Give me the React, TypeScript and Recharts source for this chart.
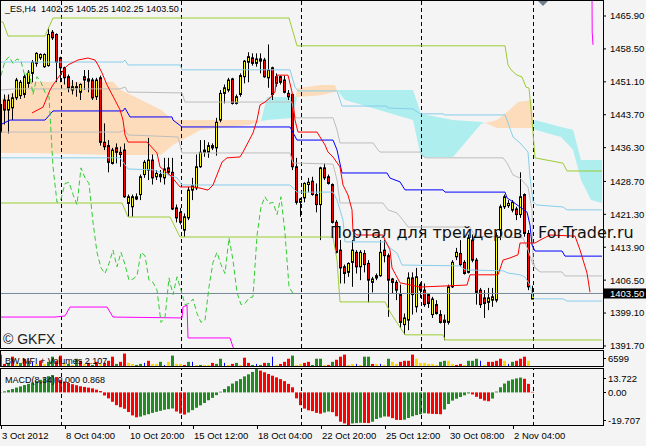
import React from "react";
import { Area, Bar, ComposedChart, Line, ReferenceLine, XAxis, YAxis } from "recharts";

// ES H4 bars, index 0 = 3 Oct 2012 00:00
const opens = [
  1439.75, 1447.0, 1444.75, 1445.25, 1447.5, 1448.0, 1448.25, 1450.75, 1453.0, 1455.25,
  1456.5, 1454.5, 1454.75, 1462.25, 1461.75, 1456.5, 1454.25, 1452.25, 1449.25, 1449.75,
  1448.75, 1452.25, 1451.75, 1451.5, 1447.75, 1452.0, 1437.5, 1436.75, 1432.75, 1436.25,
  1435.25, 1435.75, 1423.75, 1423.0, 1424.75, 1425.75, 1430.25, 1431.25, 1433.5, 1429.75,
  1430.25, 1429.5, 1431.75, 1430.75, 1422.75, 1421.75, 1417.75, 1420.5, 1426.75, 1427.25,
  1432.0, 1435.25, 1435.25, 1436.75, 1436.25, 1442.5, 1448.5, 1449.25, 1451.75, 1446.25,
  1448.25, 1452.25, 1455.5, 1456.5, 1455.25, 1456.25, 1456.0, 1452.0, 1454.25, 1450.75,
  1452.25, 1451.5, 1448.5, 1448.25, 1432.0, 1424.0, 1425.0, 1428.0, 1428.75, 1425.75,
  1423.5, 1431.75, 1429.75, 1428.0, 1419.5, 1413.25, 1409.5, 1408.25, 1410.5, 1412.75,
  1409.5, 1412.5, 1410.25, 1406.0, 1407.0, 1407.5, 1413.25, 1412.0, 1406.75, 1406.0,
  1403.25, 1396.5, 1397.5, 1407.0, 1400.5, 1405.5, 1404.25, 1403.25, 1398.75, 1401.0,
  1398.75, 1397.0, 1397.0, 1405.0, 1411.75, 1412.5, 1410.5, 1408.25, 1415.5, 1411.0,
  1404.25, 1402.5, 1401.5, 1402.0, 1402.0, 1417.75, 1423.0, 1423.25, 1422.25, 1422.5,
  1421.25, 1425.75, 1417.0, 1402.25,
];
const highs = [
  1447.0, 1448.25, 1448.25, 1448.5, 1452.0, 1451.5, 1452.75, 1453.75, 1456.0, 1457.75,
  1457.5, 1457.5, 1463.25, 1462.75, 1462.0, 1456.75, 1454.5, 1452.75, 1451.5, 1451.0,
  1450.75, 1453.75, 1453.75, 1452.0, 1452.0, 1452.5, 1441.75, 1438.0, 1436.25, 1437.25,
  1436.5, 1437.25, 1425.75, 1425.75, 1426.0, 1430.25, 1433.5, 1438.5, 1434.75, 1431.25,
  1431.25, 1434.0, 1434.0, 1434.0, 1423.5, 1422.75, 1421.5, 1427.5, 1429.5, 1434.75,
  1438.0, 1438.0, 1437.5, 1437.25, 1443.0, 1449.25, 1450.5, 1452.0, 1452.0, 1448.25,
  1453.0, 1456.0, 1457.75, 1457.5, 1457.5, 1457.5, 1456.5, 1459.5, 1454.5, 1453.0,
  1452.5, 1452.5, 1449.25, 1448.5, 1434.0, 1425.0, 1428.5, 1429.5, 1429.75, 1428.25,
  1432.0, 1432.75, 1430.25, 1428.25, 1420.0, 1415.5, 1410.0, 1410.5, 1415.5, 1413.25,
  1413.25, 1413.25, 1411.0, 1407.25, 1408.0, 1415.5, 1415.5, 1412.5, 1407.0, 1406.5,
  1405.5, 1399.0, 1408.25, 1408.25, 1409.25, 1406.0, 1405.75, 1403.5, 1402.75, 1402.0,
  1399.75, 1398.75, 1405.5, 1411.0, 1413.75, 1415.5, 1411.0, 1416.75, 1416.75, 1411.5,
  1404.75, 1404.25, 1404.75, 1404.75, 1417.25, 1423.5, 1425.75, 1424.5, 1424.5, 1423.0,
  1430.75, 1426.0, 1417.75, 1405.25,
];
const lows = [
  1434.0, 1441.5, 1439.5, 1442.5, 1447.0, 1447.25, 1447.5, 1449.75, 1451.0, 1454.5,
  1456.0, 1454.25, 1454.5, 1460.5, 1451.0, 1451.0, 1450.5, 1448.75, 1448.25, 1447.75,
  1447.0, 1449.25, 1448.75, 1447.0, 1447.0, 1436.75, 1435.75, 1430.75, 1432.5, 1432.75,
  1432.0, 1425.0, 1420.75, 1420.75, 1424.5, 1424.5, 1429.5, 1429.0, 1428.0, 1429.0,
  1428.5, 1428.0, 1430.25, 1422.25, 1419.5, 1419.0, 1416.25, 1420.0, 1424.5, 1426.75,
  1431.75, 1434.25, 1434.0, 1435.75, 1434.5, 1442.0, 1446.25, 1448.75, 1446.0, 1446.0,
  1447.75, 1450.75, 1451.0, 1454.75, 1454.5, 1453.0, 1452.0, 1449.75, 1447.0, 1450.0,
  1450.5, 1448.5, 1447.0, 1431.25, 1423.5, 1420.75, 1424.0, 1426.25, 1425.5, 1421.75,
  1415.5, 1429.0, 1428.0, 1419.25, 1412.5, 1405.75, 1405.75, 1407.25, 1405.0, 1408.0,
  1406.5, 1408.25, 1401.5, 1403.75, 1406.5, 1407.25, 1410.5, 1398.25, 1403.5, 1402.0,
  1395.75, 1394.25, 1395.25, 1398.75, 1399.25, 1402.5, 1400.5, 1400.25, 1398.0, 1398.75,
  1396.75, 1393.0, 1396.5, 1404.75, 1411.0, 1409.5, 1407.75, 1408.0, 1410.5, 1401.0,
  1400.25, 1398.0, 1399.75, 1400.5, 1401.5, 1415.5, 1422.5, 1422.75, 1421.75, 1420.0,
  1420.5, 1416.25, 1404.25, 1402.25,
];
const closes = [
  1446.0, 1444.75, 1447.0, 1447.5, 1451.5, 1451.0, 1452.25, 1453.25, 1455.5, 1457.5,
  1457.25, 1457.25, 1461.75, 1461.0, 1455.5, 1454.25, 1452.0, 1449.75, 1450.0, 1450.0,
  1450.5, 1451.5, 1451.25, 1447.5, 1451.5, 1437.5, 1436.5, 1433.0, 1435.75, 1435.25,
  1434.75, 1425.25, 1425.25, 1425.25, 1425.25, 1429.75, 1433.0, 1433.5, 1429.5, 1430.5,
  1429.75, 1431.5, 1430.75, 1422.5, 1420.5, 1419.5, 1420.75, 1426.75, 1427.75, 1432.0,
  1435.25, 1435.75, 1436.75, 1436.25, 1442.0, 1448.5, 1449.75, 1451.5, 1446.25, 1447.75,
  1452.5, 1455.75, 1456.75, 1455.25, 1456.25, 1455.75, 1452.25, 1453.75, 1448.25, 1452.25,
  1451.0, 1448.75, 1447.75, 1432.0, 1424.0, 1424.75, 1428.25, 1428.5, 1425.75, 1423.5,
  1431.75, 1429.5, 1428.25, 1419.5, 1412.75, 1409.25, 1408.0, 1410.25, 1413.25, 1409.5,
  1412.75, 1410.0, 1406.5, 1406.75, 1407.5, 1412.75, 1412.0, 1406.5, 1406.0, 1404.25,
  1397.0, 1398.0, 1407.0, 1403.25, 1407.25, 1404.25, 1401.0, 1401.25, 1402.25, 1399.0,
  1397.0, 1397.5, 1405.0, 1410.5, 1412.75, 1410.0, 1408.0, 1416.0, 1411.0, 1403.75,
  1401.0, 1401.25, 1402.5, 1402.75, 1416.5, 1423.0, 1425.25, 1423.75, 1424.0, 1421.25,
  1425.25, 1417.0, 1405.0, 1403.5,
];

const macd = [
  0.2, 0.6, 1.3, 2.0, 2.8, 3.5, 4.3, 5.0, 5.8, 6.6, 7.4, 8.2, 9.5, 10.2, 9.0, 7.4, 6.4, 5.5, 4.8, 4.2,
  3.6, 3.2, 2.8, 2.4, 1.6, 0.8, -1.8, -3.5, -5.5, -7.5, -8.7, -9.6, -11.5, -13.5, -14.6, -14.2, -13.4,
  -12.8, -12.0, -11.4, -10.8, -10.2, -9.8, -9.4, -11.2, -12.4, -13.0, -11.8, -10.4, -9.0, -7.6, -6.2,
  -4.6, -3.2, -1.6, 0.4, 2.0, 3.6, 5.2, 6.6, 7.8, 9.4, 10.6, 12.0, 13.7, 12.8, 11.8, 10.8, 9.8, 8.8,
  7.8, 6.6, 5.0, 3.0, -3.5, -7.5, -9.5, -10.5, -11.0, -12.0, -12.5, -11.8, -11.2, -11.6, -14.0, -17.2,
  -18.2, -19.7, -18.2, -18.0, -17.8, -17.9, -18.0, -17.2, -15.6, -14.8, -14.1, -14.2, -15.1, -16.1,
  -16.2, -16.0, -15.0, -14.0, -13.3, -12.8, -12.2, -12.4, -12.6, -12.7, -12.8, -10.0, -6.8, -4.8, -3.7,
  -2.7, -1.7, -0.6, -1.2, -2.6, -3.8, -4.8, -5.2, -3.6, 0.5, 3.0, 5.2, 6.8, 7.6, 8.2, 8.7, 8.0, 5.0, 0.3,
];

const bwVol = [
  5110, 1280, 1700, 4260, 1280, 1700, 3410, 2560, 2130, 1280,
  2560, 1280, 2130, 4260, 2560, 4690, 1700, 1280, 850, 3410,
  2560, 1280, 1700, 850, 2130, 1280, 1700, 2560, 4260, 1280,
  2130, 5540, 1700, 1280, 850, 1280, 1700, 2560, 1280, 1280,
  2130, 850, 2130, 4690, 1280, 1280, 850, 2130, 2130, 850,
  850, 850, 850, 1700, 1280, 3410, 1700, 850, 1280, 1700,
  850, 3830, 1700, 850, 1280, 850, 1700, 1700, 4260, 850,
  1280, 2130, 3410, 4690, 850, 1280, 1700, 2130, 850, 3410,
  3410, 850, 850, 2130, 2980, 4260, 5110, 850, 1280, 1280,
  850, 4260, 4260, 1280, 1280, 1280, 850, 3410, 2130, 1280,
  2130, 2560, 2560, 5110, 3410, 1700, 1700, 1280, 1280, 850,
  2130, 2560, 2560, 1280, 850, 1280, 850, 2560, 2560, 3410,
  2560, 850, 2130, 2130, 2560, 3410, 2560, 1280, 2130, 2560,
  3410, 4260, 2560, 430,
];
// g = green, r = red, y = squat (gold), b = fake (blue)
const bwState =
  "grgrygrgby" + "ryggrrygyg" + "ryrgryrrrg" + "rryyggbryy" + "gbygyyrgby" +
  "gyyrggbyrg" + "yrrgbgrgby" + "rrrgyyrrgg" + "gyrgrrryyb" + "yggrybygyy" +
  "rrrryyyyyy" + "ggyyrryggg" + "byrrrrybgr" + "rryy";

const dateTicks = [0, 16, 32, 48, 64, 80, 96, 112, 128];
const dateLabels = [
  "3 Oct 2012", "8 Oct 04:00", "10 Oct 20:00", "15 Oct 12:00", "18 Oct 04:00",
  "22 Oct 20:00", "25 Oct 12:00", "30 Oct 08:00", "2 Nov 04:00",
];
const priceTicks = [1465.9, 1458.5, 1451.1, 1443.7, 1436.3, 1428.7, 1421.3, 1413.9, 1406.5, 1399.1, 1391.7];
const weekStarts = [15, 45, 75, 105, 133];
const lastPrice = 1403.5;
const chikouShift = 60;

// indicator lines, [bar index, price]
const tenkan = [
  [7.75, 1444.1], [10.5, 1445.4], [12.25, 1449.25], [13, 1450.4], [16, 1454.2], [16.75, 1454.9],
  [19.25, 1456.0], [21.75, 1456.45], [23.5, 1456.0], [24.25, 1454.9], [25.25, 1453.1], [26.5, 1450.4],
  [28.5, 1447.0], [29.75, 1444.8], [30.5, 1442.5], [31, 1439.15], [31.75, 1437.55], [36.5, 1437.55],
  [39, 1435.1], [39.75, 1431.95], [42.25, 1430.15], [44.75, 1427.45], [48, 1427.45], [49.75, 1427.2],
  [51.75, 1426.75], [53, 1427.9], [55.25, 1433.05], [56.5, 1434.0], [59.75, 1434.2], [60.5, 1435.3],
  [63, 1439.6], [64, 1442.5], [64.75, 1445.9], [66, 1446.55], [67.25, 1447.5], [68.5, 1448.8],
  [69, 1452.6], [71.75, 1452.6], [72.75, 1448.8], [73.5, 1442.5], [74.25, 1439.8], [79, 1439.8],
  [81, 1436.9], [81.75, 1435.3], [83, 1434.2], [84.75, 1431.95], [85.5, 1427.9], [86.75, 1425.65],
  [87.75, 1422.3], [88, 1417.35], [89, 1416.65], [95.5, 1416.65], [96, 1415.5], [97.25, 1413.3],
  [97.75, 1409.25], [99.75, 1405.9], [104.75, 1404.95], [116.5, 1405.4], [117.25, 1407.7],
  [124.25, 1407.7], [125.5, 1411.0], [127.25, 1411.5], [129.25, 1412.2], [129.75, 1414.85],
  [133.5, 1414.85], [134.75, 1415.5], [137.25, 1416.65], [143.5, 1416.4], [144.75, 1413.3],
  [146.5, 1408.1], [147.25, 1403.8],
];
const kijun = [
  [-0.25, 1441.4], [2.25, 1442.5], [11, 1442.5], [13, 1444.55], [30.5, 1444.55], [31, 1445.2],
  [32.25, 1443.2], [42.75, 1443.2], [43, 1442.5], [45.25, 1440.95], [72.25, 1440.95], [74, 1438.0],
  [83, 1438.0], [84, 1435.8], [85.25, 1430.6], [96.5, 1430.6], [97.25, 1429.45], [99.75, 1428.6],
  [101, 1426.8], [110.5, 1426.8], [111, 1426.3], [126, 1426.3], [126.5, 1425.0], [128, 1424.1],
  [131.5, 1421.8], [132.25, 1418.9], [132.75, 1414.4], [133.5, 1413.05], [140.25, 1413.05],
  [141, 1411.9], [150.25, 1411.9],
];
const limeUpper = [
  [-0.25, 1464.55], [0.5, 1464.55], [1.75, 1461.4], [11, 1461.4], [13, 1465.45], [72, 1465.45],
  [74, 1459.2], [126, 1459.2], [126.75, 1454.9], [127.5, 1453.8], [129, 1452.6], [130.25, 1452.2],
  [131.25, 1449.9], [132, 1449.7], [132.75, 1442.5], [133.5, 1434.0], [140.5, 1432.8],
  [141.5, 1431.05], [150.25, 1431.05],
];
const limeLower = [
  [-0.25, 1423.85], [30.25, 1423.85], [31.75, 1420.7], [42.25, 1420.7], [44.75, 1416.2], [83, 1416.2],
  [84, 1411.0], [84.75, 1401.6], [96, 1401.6], [97.25, 1399.35], [101, 1394.2], [110.5, 1394.2],
  [111, 1393.05], [150.25, 1393.05],
];
const skyUpper = [
  [-0.25, 1455.55], [30.5, 1455.55], [31, 1456.0], [31.75, 1454.9], [44.75, 1454.9], [45.25, 1453.8],
  [72.25, 1453.8], [73.5, 1449.9], [74.25, 1449.05], [84, 1449.05], [85.25, 1445.65], [96.5, 1445.65],
  [96.75, 1445.2], [103, 1445.0], [104.75, 1443.9], [110.5, 1443.9], [111, 1443.65], [126, 1443.65],
  [126.5, 1442.5], [128, 1438.7], [129.75, 1437.35], [131.75, 1435.3], [132.25, 1429.7], [133, 1424.1],
  [134, 1423.4], [140.5, 1422.95], [141.5, 1422.3], [150.25, 1422.3],
];
const skyLower = [
  [-0.25, 1434.0], [29.75, 1434.0], [31.75, 1431.5], [38, 1431.3], [44, 1429.5], [45.25, 1427.9],
  [72.25, 1427.9], [73, 1427.2], [74, 1426.3], [83, 1426.3], [84, 1424.5], [84.75, 1422.3],
  [85.5, 1420.0], [86, 1415.1], [96, 1415.1], [97.25, 1413.75], [99, 1412.6], [100.25, 1409.9],
  [114.75, 1409.7], [116, 1408.8], [125.5, 1408.6], [126.75, 1408.1], [129.75, 1407.7], [131, 1407.2],
  [132.25, 1405.4], [133, 1402.7], [133.5, 1402.3], [140.5, 1402.3], [141.5, 1401.8], [150.25, 1401.8],
];
const grayUpper = [
  [-0.25, 1449.25], [3.5, 1449.5], [29.75, 1449.5], [31, 1449.95], [31.75, 1448.8], [45.25, 1448.6],
  [46, 1446.55], [72.75, 1446.55], [73.5, 1443.2], [74, 1443.0], [83, 1443.0], [84, 1440.3],
  [84.75, 1437.35], [93, 1437.35], [94.25, 1435.8], [94.75, 1435.3], [104.75, 1435.3], [106, 1434.0],
  [125.5, 1434.0], [126.5, 1432.85], [128, 1430.15], [129.75, 1429.45], [131.75, 1427.45],
  [132.75, 1422.3], [133, 1411.0], [133.5, 1409.25], [134.75, 1408.35], [140.25, 1408.35],
  [141, 1407.45], [150.25, 1407.45],
];
const grayLower = [
  [-0.25, 1439.8], [29.75, 1439.8], [31, 1440.3], [31.75, 1439.15], [44.25, 1438.7], [45.25, 1435.1],
  [72.25, 1435.1], [73, 1432.85], [83, 1432.6], [84, 1429.0], [84.75, 1423.85], [95.5, 1423.85],
  [96.75, 1422.3], [99, 1421.6], [100.5, 1420.0], [101.75, 1418.45], [117.25, 1418.45],
  [118.5, 1416.4], [130.5, 1416.0], [131.75, 1413.3], [133, 1409.9], [134.75, 1408.35],
];
const magentaLeft = [
  [-0.25, 1398.2], [13.5, 1398.2], [16, 1398.45], [17.25, 1400.45], [26.5, 1400.45], [28, 1398.2],
  [45.25, 1398.0], [45.5, 1400.45], [46.5, 1400.9], [46.75, 1393.5], [57.25, 1393.5], [58, 1391.45],
  [59, 1390.3],
];
const magentaRight = [[147.75, 1470.6], [147.8, 1462.3], [148, 1459.4]];

// cloud pieces, [bar index, low, high]
const peachCloud = [
  [[-0.25, 1435.1, 1447.0], [7, 1435.1, 1451.1], [28, 1434.65, 1451.1], [30, 1434.65, 1449.25],
   [40, 1434.65, 1444.8], [43, 1436.9, 1442.5], [50, 1440.3, 1442.5], [62, 1441.4, 1442.5], [65, 1442.3, 1442.3]],
  [[73.5, 1447.7, 1447.7], [74.25, 1447.7, 1449.7], [80, 1448.1, 1450.4], [83.5, 1448.8, 1450.4],
   [84, 1449.25, 1449.25]],
  [[121, 1441.85, 1441.85], [124, 1440.7, 1442.5], [126.5, 1440.7, 1444.3], [129.25, 1440.7, 1446.55],
   [132.75, 1440.7, 1447.0], [133, 1440.9, 1440.9]],
];
const cyanCloud = [
  [[65, 1442.3, 1442.3], [66.5, 1442.5, 1447.7], [73, 1442.95, 1447.7], [74, 1447.7, 1447.7]],
  [[84, 1449.25, 1449.25], [86, 1447.0, 1449.25], [103, 1442.5, 1449.25], [105, 1434.2, 1443.9],
   [113, 1434.2, 1442.5], [120, 1441.6, 1442.05], [121, 1441.85, 1441.85]],
  [[133, 1441.4, 1441.4], [133.5, 1440.3, 1442.5], [140, 1438.7, 1440.95], [143, 1435.8, 1440.3],
   [145, 1429.0, 1433.5], [147.5, 1424.5, 1433.5], [150.25, 1423.85, 1433.5]],
];

const X_DOMAIN: [number, number] = [-0.25, 150.5];
const FONT = '"Liberation Sans", Arial, sans-serif';

const candleRows = opens.map((o, i) => ({
  i, o, h: highs[i], l: lows[i], c: closes[i], range: [lows[i], highs[i]],
}));
const chikou = closes.slice(chikouShift).map((v, i) => ({ i, v }));
const macdRows = macd.map((m, i) => ({ i, m, up: i === 0 || m >= macd[i - 1] }));
const bwRows = bwVol.map((v, i) => ({ i, v, s: bwState[i] }));
const pts = (a: number[][]) => a.map(([i, v]) => ({ i, v }));
const band = (a: number[][]) => a.map(([i, lo, hi]) => ({ i, r: [lo, hi] }));

const lineSet = [
  { d: limeUpper, c: "#9acd32" },
  { d: limeLower, c: "#9acd32" },
  { d: grayUpper, c: "#bdbdbd" },
  { d: grayLower, c: "#bdbdbd" },
  { d: skyUpper, c: "#87ceeb" },
  { d: skyLower, c: "#87ceeb" },
  { d: magentaLeft, c: "#ff00ff" },
  { d: magentaRight, c: "#ff00ff" },
  { d: kijun, c: "#0000ff" },
  { d: tenkan, c: "#ff0000" },
];

const Candle = (props: any) => {
  const { x, y, width, height, payload } = props;
  if (!payload) return null;
  const { o, h, l, c } = payload;
  const cx = Math.floor(x + width / 2) + 0.5;
  const ppu = h > l ? height / (h - l) : 0;
  const py = (v: number) => y + (h - v) * ppu;
  const top = py(Math.max(o, c));
  const bot = py(Math.min(o, c));
  return (
    <g>
      <line x1={cx} x2={cx} y1={y} y2={y + height} stroke="#000" strokeWidth={1} />
      <rect x={cx - 1} y={top} width={2} height={Math.max(bot - top, 1)}
        fill={c >= o ? "#ffff00" : "#ff0000"} stroke="#000" strokeWidth={1} />
    </g>
  );
};

const MacdBar = (props: any) => {
  const { x, y, width, height, payload } = props;
  if (!payload) return null;
  const cx = Math.floor(x + width / 2);
  const top = Math.min(y, y + height);
  return <rect x={cx - 1} y={top} width={3} height={Math.abs(height)} fill={payload.up ? "#228b22" : "#ff0000"} />;
};

const bwColor: Record<string, string> = { g: "#228b22", r: "#ff0000", y: "#ffd700", b: "#0000ff" };
const BwBar = (props: any) => {
  const { x, y, width, height, payload } = props;
  if (!payload) return null;
  const cx = Math.floor(x + width / 2);
  const thin = payload.s === "b";
  return <rect x={thin ? cx : cx - 1} y={y} width={thin ? 1 : 3} height={Math.max(height, 0)} fill={bwColor[payload.s]} />;
};

const DateTick = (props: any) => {
  const { x, y, payload } = props;
  const k = dateTicks.indexOf(payload.value);
  return (
    <g>
      <line x1={Math.floor(x) + 0.5} x2={Math.floor(x) + 0.5} y1={y} y2={y + 3} stroke="#000" />
      <text x={x + 1} y={y + 13} fontSize={9.5} fontFamily={FONT} fill="#000">{dateLabels[k]}</text>
    </g>
  );
};

const MacdTick = (props: any) => {
  const { x, y, payload } = props;
  const v = payload.value;
  const off = v > 0 ? 8.7 : v < 0 ? -6 : 0;
  const yy = Math.round(y + off) + 0.5;
  return (
    <g>
      <line x1={x} x2={x + 3} y1={yy} y2={yy} stroke="#000" />
      <text x={x + 5} y={yy + 3.5} fontSize={9.5} fontFamily={FONT} fill="#000">
        {v === 0 ? "0.00" : v.toFixed(3)}
      </text>
    </g>
  );
};

const BwTick = (props: any) => {
  const { x, y } = props;
  return (
    <g>
      <line x1={x} x2={x + 3} y1={y + 7.5} y2={y + 7.5} stroke="#000" />
      <text x={x + 5} y={y + 11} fontSize={9.5} fontFamily={FONT} fill="#000">6599</text>
    </g>
  );
};

const PriceTag = (props: any) => {
  const vb = props.viewBox || {};
  const right = (vb.x || 0) + (vb.width || 0);
  const yy = vb.y || 0;
  return (
    <g>
      <rect x={right + 1} y={yy - 5} width={43} height={10} fill="#000" />
      <text x={right + 7} y={yy + 3.5} fontSize={9.5} fontFamily={FONT} fill="#fff">
        {lastPrice.toFixed(2)}
      </text>
    </g>
  );
};

const separators = () =>
  weekStarts.map((w) => (
    <ReferenceLine key={"sep" + w} x={w + 0.125} stroke="#000" strokeDasharray="4 3" strokeWidth={1} />
  ));

export default function App() {
  return (
    <div style={{ position: "absolute", left: 0, top: 0, width: 646, height: 446, background: "#f4f4f4", overflow: "hidden" }}>
      <div style={{ position: "absolute", left: 0, top: 351 }}>
        <ComposedChart width={646} height={16} data={bwRows} margin={{ top: 0, right: 0, bottom: 0, left: 0 }}>
          <XAxis dataKey="i" type="number" domain={X_DOMAIN} allowDataOverflow hide />
          <YAxis orientation="right" width={43} domain={[0, 6599]} allowDataOverflow ticks={[6599]} interval={0}
            axisLine={false} tickLine={false} tickSize={0} tickMargin={0} tick={<BwTick />} />
          <Bar dataKey="v" barSize={3} shape={<BwBar />} isAnimationActive={false} />
        </ComposedChart>
      </div>

      <div style={{ position: "absolute", left: 0, top: 369 }}>
        <ComposedChart width={646} height={77} data={macdRows} margin={{ top: 0, right: 0, bottom: 0, left: 0 }}>
          <XAxis dataKey="i" type="number" domain={X_DOMAIN} allowDataOverflow ticks={dateTicks} interval={0}
            height={20} axisLine={false} tickLine={false} tickSize={0} tickMargin={0} tick={<DateTick />} />
          <YAxis orientation="right" width={43} domain={[-19.707, 13.722]} allowDataOverflow
            ticks={[13.722, 0, -19.707]} interval={0} axisLine={false} tickLine={false} tickSize={0}
            tickMargin={0} tick={<MacdTick />} />
          {separators()}
          <Bar dataKey="m" barSize={3} shape={<MacdBar />} isAnimationActive={false} />
        </ComposedChart>
      </div>

      <div style={{ position: "absolute", left: 0, top: 0 }}>
        <ComposedChart width={646} height={360} data={candleRows} margin={{ top: 0, right: 0, bottom: 12, left: 0 }}>
          <XAxis dataKey="i" type="number" domain={X_DOMAIN} allowDataOverflow hide />
          <YAxis orientation="right" width={43} domain={[1391.24, 1469.5]} allowDataOverflow ticks={priceTicks}
            interval={0} axisLine={false} tickLine={{ stroke: "#000" }} tickSize={3} tickMargin={4}
            tick={{ fontSize: 9.5, fill: "#000", fontFamily: FONT }} tickFormatter={(v: number) => v.toFixed(2)} />
          {peachCloud.map((p, k) => (
            <Area key={"pc" + k} data={band(p)} dataKey="r" type="linear" stroke="none" fill="#fddcbc"
              fillOpacity={1} isAnimationActive={false} dot={false} activeDot={false} />
          ))}
          {cyanCloud.map((p, k) => (
            <Area key={"cc" + k} data={band(p)} dataKey="r" type="linear" stroke="none" fill="#afeeee"
              fillOpacity={1} isAnimationActive={false} dot={false} activeDot={false} />
          ))}
          <ReferenceLine y={lastPrice} stroke="#778899" strokeWidth={1} label={(p: any) => <PriceTag {...p} />} />
          {separators()}
          {lineSet.map((s, k) => (
            <Line key={"ln" + k} data={pts(s.d)} dataKey="v" type="linear" stroke={s.c} strokeWidth={1}
              dot={false} activeDot={false} isAnimationActive={false} />
          ))}
          <Line data={chikou} dataKey="v" type="linear" stroke="#32cd32" strokeWidth={1} strokeDasharray="5 3"
            dot={false} activeDot={false} isAnimationActive={false} />
          <Bar dataKey="range" barSize={3} shape={<Candle />} isAnimationActive={false} />
        </ComposedChart>
      </div>

      <svg width={646} height={446} style={{ position: "absolute", left: 0, top: 0, pointerEvents: "none" }}>
        <rect x={0.5} y={0.5} width={603} height={348} fill="none" stroke="#000" />
        <rect x={0.5} y={350.5} width={603} height={16} fill="none" stroke="#000" />
        <rect x={0.5} y={368.5} width={603} height={57} fill="none" stroke="#000" />
        <polygon points="538,1 548,1 543,6" fill="#708090" />
        <text x={5} y={12} fontSize={9} fontFamily={FONT} fill="#000" style={{ whiteSpace: "pre" }}>
          {"_ES,H4  1402.25 1405.25 1402.25 1403.50"}
        </text>
        <text x={3} y={344} fontSize={14} fontFamily={FONT} fill="#222">© GKFX</text>
        <text x={330} y={238} fontSize={16} fontFamily='"DejaVu Sans", sans-serif' fill="#111">Портал для трейдеров</text>
        <text x={538} y={238} fontSize={16} fontFamily='"DejaVu Sans", sans-serif' fill="#111">ForTrader.ru</text>
        <text x={5} y={364} fontSize={9} fontFamily={FONT} fill="#000">BW MFI + Volumes 2.107</text>
        <text x={5} y={383} fontSize={9} fontFamily={FONT} fill="#000">MACD(8,34) 0.000 0.868</text>
      </svg>
    </div>
  );
}
